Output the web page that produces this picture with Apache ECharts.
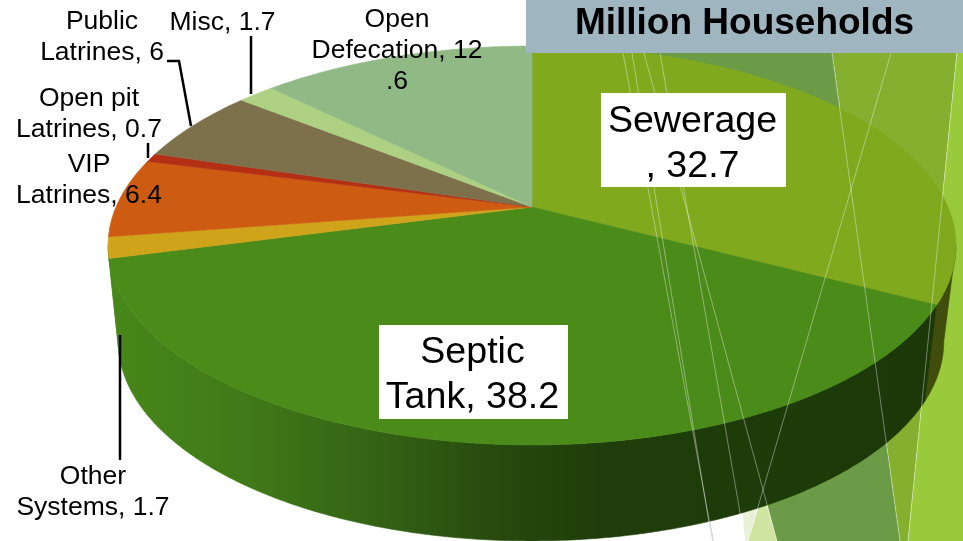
<!DOCTYPE html>
<html>
<head>
<meta charset="utf-8">
<style>html,body{margin:0;padding:0;background:#fff}#c{width:963px;height:541px}</style>
<script src="https://cdn.jsdelivr.net/npm/echarts@6/dist/echarts.min.js"></script>
</head>
<body>
<div id="c"></div>
<script>
// ---- data ----
const categories = ['Sewerage','Septic Tank','Other Systems','VIP Latrines','Open pit Latrines','Public Latrines','Misc','Open Defecation'];
const values = [32.7,38.2,1.7,6.4,0.7,6,1.7,12.6];
const chartTitle = 'Million Households';
// where each "name, value" label wraps (character offsets)
const labelBreaks = [[8],[6],[5],[3],[8],[6],[],[4,19]];

// ---- styles / layout ----
const topColors = ['#81a91e','#4a8b1a','#cfa31a','#cd5c12','#b42f14','#7c714b','#aed083','#90b985'];
const septicWall = {type:'linear',x:0,y:0,x2:963,y2:0,global:true,colorStops:[
  {offset:110/963,color:'rgb(72,135,26)'},{offset:250/963,color:'rgb(64,121,24)'},{offset:370/963,color:'rgb(53,100,21)'},
  {offset:500/963,color:'rgb(39,73,14)'},{offset:600/963,color:'rgb(31,62,11)'},{offset:930/963,color:'rgb(28,56,8)'}]};
const wallColors = ['#414d0c',septicWall,'#4a8b1a','#8e3f0c','#7c200e','#554e33','#78905a','#64805c'];
const topFace = {cx:532,cy:207,rx:416,ry:192,q:0.193};
const bottomFace = {cx:531,cy:303,rx:405,ry:192,q:0.193};
const labelLayout = [
  {x:692.5,y:144,size:37.6,lh:45,box:[601,93,185,94]},
  {x:472.5,y:375.5,size:37.6,lh:45,box:[379,325,189,94]},
  {x:93,y:492.5,size:26.5,lh:31},
  {x:89,y:180.5,size:26.5,lh:31},
  {x:89,y:114,size:26.5,lh:31},
  {x:102,y:37.5,size:26.5,lh:31},
  {x:222.5,y:23,size:26.5,lh:31},
  {x:397,y:51,size:26.5,lh:31}
];
const leaders = [
  [[167,61],[179,61],[191,126]],
  [[251,36],[251,94]],
  [[148,143],[148,158]],
  [[120,335],[120,460]]
];
const facetPolygons = [
  {pts:[[631,0],[777,541],[900,541],[825,0]],fill:'#6c9b47'},
  {pts:[[825,0],[900,541],[908,541],[962,0]],fill:'#85b02f'},
  {pts:[[962,0],[908,541],[963,541],[963,0]],fill:'#99ca3c'},
  {pts:[[763,493],[748,541],[777,541]],fill:'#cfe4a1'},
  {pts:[[739,470],[745,541],[748,541],[770,470]],fill:'#e9f2d8'}
];
const thinLines = [
  [[623,53],[713,541]],[[632,53],[712,541]],[[660,53],[745,541]],[[644,53],[777,541]],
  [[891,53],[748,541]],[[832,53],[900,541]],[[957,53],[908,541]]
];

const total = values.reduce((a,b)=>a+b,0);
let run = 0;
const starts = values.map(v=>{const s=run;run+=v;return s;});

function project(f,t){
  const u=Math.sin(t),v=-Math.cos(t),d=1-f.q*v;
  return [f.cx+f.rx*u/d,f.cy+f.ry*v/d];
}
function angle(val){return val/total*Math.PI*2;}
const seriesData = values.map((v,i)=>[v,starts[i],i]);

function renderTop(params,api){
  const v=api.value(0),s=api.value(1),i=api.value(2);
  const a=angle(s),b=angle(s+v),n=Math.max(2,Math.ceil((b-a)/0.01));
  const pts=[[topFace.cx,topFace.cy]];
  for(let k=0;k<=n;k++)pts.push(project(topFace,a+(b-a)*k/n));
  return {type:'polygon',shape:{points:pts},style:{fill:topColors[i],stroke:topColors[i],lineWidth:0.6}};
}
function renderWall(params,api){
  const v=api.value(0),s=api.value(1),i=api.value(2);
  // only the part of the rim between the two widest points faces the viewer
  const lo=Math.acos(-topFace.q),hi=Math.PI*2-lo;
  const a=Math.max(angle(s),lo),b=Math.min(angle(s+v),hi);
  if(b<=a)return {type:'group',children:[]};
  const n=Math.max(1,Math.ceil((b-a)/0.01));
  const upper=[],lower=[];
  for(let k=0;k<=n;k++){
    const t=a+(b-a)*k/n;
    upper.push(project(topFace,t));
    lower.unshift(project(bottomFace,t));
  }
  return {type:'polygon',shape:{points:upper.concat(lower)},style:{fill:wallColors[i],stroke:wallColors[i],lineWidth:0.6}};
}
function labelText(i){
  const str=categories[i]+', '+values[i];
  const cuts=[0,...labelBreaks[i],str.length];
  const lines=[];
  for(let k=0;k<cuts.length-1;k++)lines.push(str.slice(cuts[k],cuts[k+1]).trim());
  return lines.join('\n');
}
function renderLabel(params,api){
  const i=api.value(2),L=labelLayout[i],children=[];
  if(L.box)children.push({type:'rect',shape:{x:L.box[0],y:L.box[1],width:L.box[2],height:L.box[3]},style:{fill:'#fff'}});
  children.push({type:'text',z2:5,style:{text:labelText(i),x:L.x,y:L.y,align:'center',verticalAlign:'middle',lineHeight:L.lh,
    font:L.size+'px "Liberation Sans", Arial, sans-serif',fill:'#000'}});
  return {type:'group',children};
}

const graphicEls=[];
facetPolygons.forEach(p=>graphicEls.push({type:'polygon',z:0,silent:true,shape:{points:p.pts},style:{fill:p.fill}}));
graphicEls.push({type:'polyline',z:0,silent:true,shape:{points:[[623,53],[713,541]]},style:{stroke:'#c2c2d0',lineWidth:1.5,fill:null}});
thinLines.forEach(l=>graphicEls.push({type:'polyline',z:5,silent:true,shape:{points:l},style:{stroke:'rgba(255,255,255,0.38)',lineWidth:1,fill:null}}));
leaders.forEach(l=>graphicEls.push({type:'polyline',z:8,silent:true,shape:{points:l},style:{stroke:'#000',lineWidth:2.5,fill:null}}));
graphicEls.push({type:'rect',z:9,silent:true,shape:{x:526,y:0,width:437,height:53},style:{fill:'#9fb5c0'}});
graphicEls.push({type:'text',z:10,silent:true,style:{text:chartTitle,x:744.5,y:24,align:'center',verticalAlign:'middle',
  font:'bold 37px "Liberation Sans", Arial, sans-serif',fill:'#000'}});

const chart=echarts.init(document.getElementById('c'),null,{renderer:'canvas'});
chart.setOption({
  animation:false,
  backgroundColor:'#fff',
  graphic:{elements:graphicEls},
  series:[
    {type:'custom',coordinateSystem:'none',silent:true,z:2,renderItem:renderWall,data:seriesData},
    {type:'custom',coordinateSystem:'none',silent:true,z:3,renderItem:renderTop,data:seriesData},
    {type:'custom',coordinateSystem:'none',silent:true,z:7,renderItem:renderLabel,data:seriesData}
  ]
});
</script>
</body>
</html>
